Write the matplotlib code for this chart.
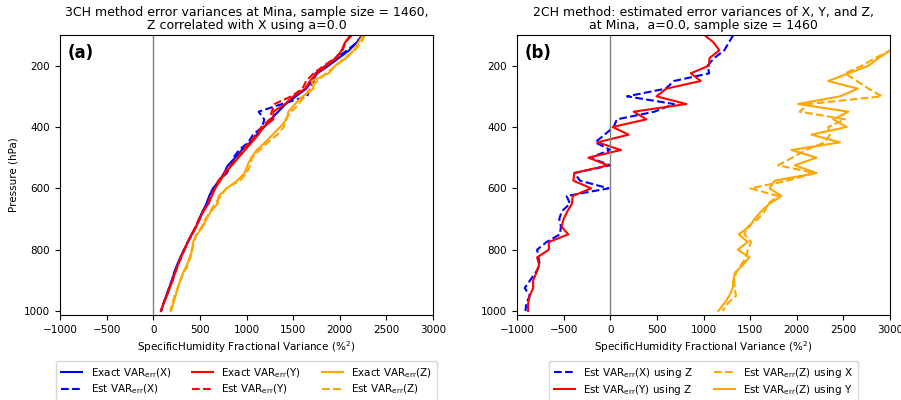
#!/usr/bin/env python3
# 3CH vs 2CH error variance profiles at Mina.

import matplotlib
matplotlib.use("Agg")
import matplotlib.pyplot as plt
import numpy as np

pres = np.arange(100, 1001, 25)

# panel (a): 3CH exact and estimated error variances
exact_x = [2250, 2180, 2100, 1990, 1880, 1760, 1700, 1640, 1530, 1420, 1340, 1260, 1190,
           1110, 1040, 950, 880, 800, 760, 710, 640, 600, 570, 530, 490, 460, 410, 370,
           330, 290, 255, 225, 200, 170, 140, 110, 85]
est_x = [2240, 2180, 2080, 1960, 1850, 1740, 1720, 1680, 1650, 1380, 1130, 1190, 1170,
         1070, 1020, 920, 860, 830, 790, 700, 650, 610, 580, 530, 500, 455, 420, 370,
         330, 300, 260, 225, 200, 170, 140, 110, 85]
exact_y = [2116, 2055, 2019, 1966, 1859, 1752, 1681, 1627, 1502, 1413, 1288, 1288, 1181,
           1127, 1056, 985, 913, 842, 771, 717, 664, 628, 592, 539, 496, 460, 414, 371,
           335, 296, 264, 235, 207, 175, 146, 110, 82]
est_y = [2130, 2060, 2030, 1950, 1830, 1720, 1640, 1600, 1480, 1300, 1270, 1250, 1160,
         1100, 1030, 960, 900, 830, 760, 700, 660, 610, 590, 530, 490, 455, 410, 370,
         335, 296, 264, 235, 207, 175, 146, 110, 82]
exact_z = [2250, 2200, 2150, 2070, 1950, 1880, 1700, 1720, 1600, 1520, 1450, 1430, 1360,
           1280, 1200, 1110, 1050, 1010, 980, 900, 790, 700, 690, 620, 570, 530, 470, 425,
           420, 390, 360, 320, 290, 260, 240, 215, 190]
est_z = [2270, 2230, 2160, 2050, 1960, 1850, 1760, 1680, 1620, 1560, 1480, 1420, 1400,
         1330, 1230, 1140, 1060, 1040, 1000, 930, 780, 730, 660, 610, 560, 520, 460, 440,
         410, 400, 370, 330, 290, 265, 230, 205, 180]

# panel (b): 2CH estimates
x_using_z = [1320, 1270, 1223, 1115, 1043, 1061, 683, 594, 180, 683, 475, 72, 36,
             -60, -162, 0, -216, 0, -385, -324, -18, -468, -432, -520, -547, -529, -540,
             -683, -784, -770, -755, -800, -860, -917, -863, -899, -910]
y_using_z = [1010, 1110, 1170, 1065, 1058, 863, 971, 601, 496, 816, 252, 388, 25,
             198, -137, 115, -234, -25, -385, -396, -205, -403, -410, -460, -500, -522,
             -450, -658, -658, -784, -763, -791, -827, -827, -863, -881, -881]
z_using_x = [3300, 3150, 3004, 2842, 2700, 2518, 2644, 2770, 2914, 2122, 2032, 2518, 2338,
             2356, 2300, 2100, 1950, 1799, 2194, 1900, 1504, 1799, 1691, 1655, 1583, 1475,
             1439, 1511, 1475, 1457, 1403, 1349, 1331, 1331, 1349, 1259, 1205]
z_using_y = [3300, 3150, 3004, 2878, 2770, 2554, 2338, 2655, 2464, 2014, 2554, 2392, 2536,
             2158, 2464, 1942, 2212, 1978, 2212, 1763, 1709, 1835, 1709, 1619, 1547, 1493,
             1378, 1475, 1367, 1493, 1421, 1338, 1320, 1313, 1277, 1223, 1158]

fs = 7.5
fig = plt.figure(figsize=(9.01, 4.0), dpi=100)
ax1 = fig.add_axes([0.0666, 0.2125, 0.414, 0.70])
ax2 = fig.add_axes([0.5738, 0.2125, 0.414, 0.70])

lw = 1.5
ax1.plot(exact_x, pres, color="blue", lw=lw, label=r"Exact VAR$_{\rm err}$(X)")
ax1.plot(est_x, pres, color="blue", lw=lw, ls="--", label=r"Est VAR$_{\rm err}$(X)")
ax1.plot(exact_y, pres, color="red", lw=lw, label=r"Exact VAR$_{\rm err}$(Y)")
ax1.plot(est_y, pres, color="red", lw=lw, ls="--", label=r"Est VAR$_{\rm err}$(Y)")
ax1.plot(exact_z, pres, color="orange", lw=lw, label=r"Exact VAR$_{\rm err}$(Z)")
ax1.plot(est_z, pres, color="orange", lw=lw, ls="--", label=r"Est VAR$_{\rm err}$(Z)")
ax1.set_title("3CH method error variances at Mina, sample size = 1460,\n"
              "Z correlated with X using a=0.0", fontsize=9, linespacing=1.0, pad=4)
ax1.set_ylabel("Pressure (hPa)", fontsize=fs)
ax1.text(0.02, 0.935, "(a)", transform=ax1.transAxes, fontsize=12,
         fontweight="bold", va="center")
ax1.legend(loc="upper center", bbox_to_anchor=(0.5, -0.145), ncol=3, fontsize=fs,
           labelspacing=0.3, borderpad=0.5)

ax2.plot(x_using_z, pres, color="blue", lw=lw, ls="--", label=r"Est VAR$_{\rm err}$(X) using Z")
ax2.plot(y_using_z, pres, color="red", lw=lw, label=r"Est VAR$_{\rm err}$(Y) using Z")
ax2.plot(z_using_x, pres, color="orange", lw=lw, ls="--", label=r"Est VAR$_{\rm err}$(Z) using X")
ax2.plot(z_using_y, pres, color="orange", lw=lw, label=r"Est VAR$_{\rm err}$(Z) using Y")
ax2.set_title("2CH method: estimated error variances of X, Y, and Z,\n"
              "at Mina,  a=0.0, sample size = 1460", fontsize=9, linespacing=1.0, pad=4)
ax2.text(0.02, 0.935, "(b)", transform=ax2.transAxes, fontsize=12,
         fontweight="bold", va="center")
ax2.legend(loc="upper center", bbox_to_anchor=(0.5, -0.145), ncol=2, fontsize=fs,
           labelspacing=0.3, borderpad=0.5)

for ax in (ax1, ax2):
    ax.axvline(0, color="gray", lw=1)
    ax.set_xlim(-1000, 3000)
    ax.set_ylim(1013, 100)
    ax.set_xticks(np.arange(-1000, 3001, 500))
    ax.set_yticks([200, 400, 600, 800, 1000])
    ax.tick_params(labelsize=fs)
    ax.set_xlabel(r"SpecificHumidity Fractional Variance (%$^2$)", fontsize=fs, labelpad=3)

fig.savefig("out.png", dpi=100)
